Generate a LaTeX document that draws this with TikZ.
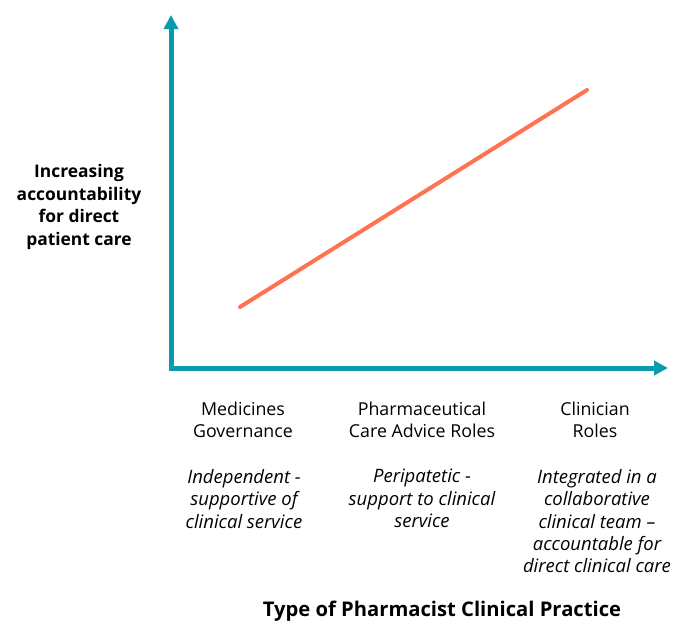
\documentclass[tikz,border=0pt]{standalone}
\usepackage{fontspec}
\setmainfont{Open Sans}
\usetikzlibrary{arrows.meta}
\definecolor{axisteal}{RGB}{10,154,174}
\definecolor{trendorange}{RGB}{255,114,82}
\tikzset{
  axis/.style={line width=5pt,draw=axisteal,-{Triangle[width=14pt,length=14pt]}},
  trend/.style={line width=4pt,draw=trendorange,line cap=round},
  lbl/.style={align=center,font=\fontsize{17.8}{22.5}\selectfont,inner sep=0pt},
  desc/.style={lbl,font=\fontsize{18.5}{22.4}\selectfont\itshape},
  ttl/.style={lbl,font=\fontsize{17.4}{22.6}\selectfont\bfseries}
}
\begin{document}
\begin{tikzpicture}[x=1pt,y=-1pt]
\useasboundingbox (0,0) rectangle (686,624);

\coordinate (o) at (171,368);
\coordinate (ybot) at (171,370.5);
\coordinate (ytop) at (171,15);
\coordinate (xleft) at (168.5,368);
\coordinate (xright) at (668,368);

\draw[axis] (ybot) -- (ytop);
\draw[axis] (xleft) -- (xright);

\coordinate (lo) at (240,307);
\coordinate (hi) at (587,90);
\draw[trend] (lo) -- (hi);

\node[ttl] (ylabel) at (79,207) {Increasing\\accountability\\for direct\\patient care};

\node[lbl] (gov) at (243,420) {Medicines\\Governance};
\node[lbl] (care) at (422,420) {Pharmaceutical\\Care Advice Roles};
\node[lbl] (clin) at (595,420) {Clinician\\Roles};

\node[desc,anchor=north] (govd) at (244,469) {Independent -\\supportive of\\clinical service};
\node[desc,anchor=north] (cared) at (422,469) {Peripatetic -\\support to clinical\\service};
\node[desc,anchor=north] (clind) at (597,469) {Integrated in a\\collaborative\\clinical team --\\accountable for\\direct clinical care};

\node[ttl,font=\fontsize{20.2}{24}\selectfont\bfseries] (xlabel) at (442,611) {Type of Pharmacist Clinical Practice};

\end{tikzpicture}
\end{document}
